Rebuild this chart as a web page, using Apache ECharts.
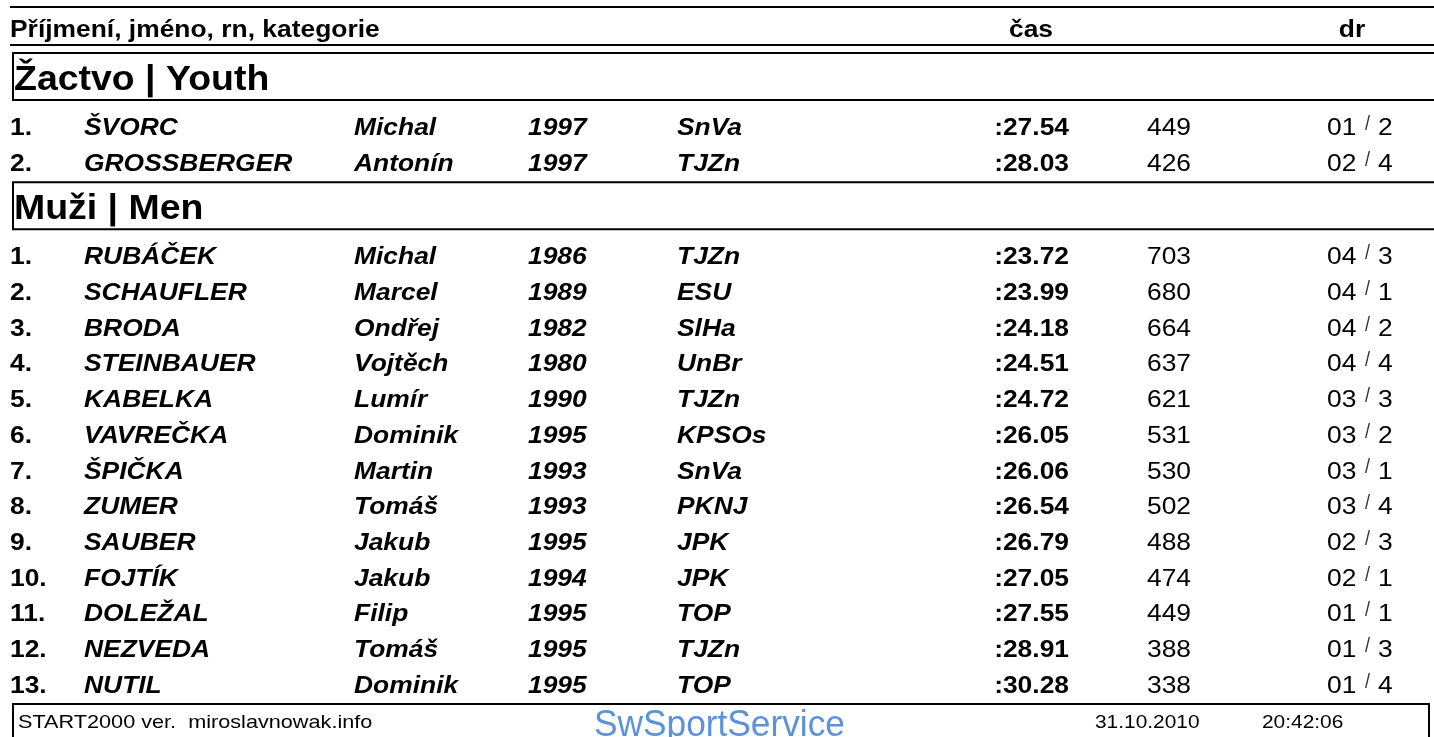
<!DOCTYPE html>
<html>
<head>
<meta charset="utf-8">
<title>Výsledky START2000</title>
<script src="https://cdn.jsdelivr.net/npm/echarts@6/dist/echarts.min.js"></script>
<style>
html, body { margin: 0; padding: 0; background: #fff; }
#chart { width: 1434px; height: 737px; }
</style>
</head>
<body>
<div id="chart"></div>
<script>
// texty hlavičky a sekcí
const headerLabels = ['Příjmení, jméno, rn, kategorie', 'čas', 'dr'];
const sectionTitles = ['Žactvo | Youth', 'Muži | Men'];

// Žactvo | Youth
const youthRank = ['1.', '2.'];
const youthSurname = ['ŠVORC', 'GROSSBERGER'];
const youthName = ['Michal', 'Antonín'];
const youthYear = ['1997', '1997'];
const youthClub = ['SnVa', 'TJZn'];
const youthTime = [':27.54', ':28.03'];
const youthPoints = [449, 426];
const youthHeat = ['01', '02'];
const youthLane = ['2', '4'];

// Muži | Men
const menRank = ['1.', '2.', '3.', '4.', '5.', '6.', '7.', '8.', '9.', '10.', '11.', '12.', '13.'];
const menSurname = ['RUBÁČEK', 'SCHAUFLER', 'BRODA', 'STEINBAUER', 'KABELKA', 'VAVREČKA', 'ŠPIČKA',
  'ZUMER', 'SAUBER', 'FOJTÍK', 'DOLEŽAL', 'NEZVEDA', 'NUTIL'];
const menName = ['Michal', 'Marcel', 'Ondřej', 'Vojtěch', 'Lumír', 'Dominik', 'Martin',
  'Tomáš', 'Jakub', 'Jakub', 'Filip', 'Tomáš', 'Dominik'];
const menYear = ['1986', '1989', '1982', '1980', '1990', '1995', '1993', '1993', '1995', '1994', '1995', '1995', '1995'];
const menClub = ['TJZn', 'ESU', 'SlHa', 'UnBr', 'TJZn', 'KPSOs', 'SnVa', 'PKNJ', 'JPK', 'JPK', 'TOP', 'TJZn', 'TOP'];
const menTime = [':23.72', ':23.99', ':24.18', ':24.51', ':24.72', ':26.05', ':26.06',
  ':26.54', ':26.79', ':27.05', ':27.55', ':28.91', ':30.28'];
const menPoints = [703, 680, 664, 637, 621, 531, 530, 502, 488, 474, 449, 388, 338];
const menHeat = ['04', '04', '04', '04', '03', '03', '03', '03', '02', '02', '01', '01', '01'];
const menLane = ['3', '1', '2', '4', '3', '2', '1', '4', '3', '1', '1', '3', '4'];

// patička
const footerLeft = 'START2000 ver.  miroslavnowak.info';
const footerLogo = 'SwSportService';
const footerDate = '31.10.2010';
const footerTime = '20:42:06';

const W = 1434, H = 737;
const FONT = '"Liberation Sans", Arial, sans-serif';
const SX = 1.1; // sestava je trochu vodorovně roztažená
const LINE = '#000';
const TY = 2.5; // posun textu dolů vůči středu řádku

// sloupce (x v px)
const col = { rank: 10, surname: 84, name: 354, year: 528, club: 677, time: 1069, points: 1147, heat: 1327, slash: 1365, lane: 1378 };

// svislé rozvržení: box sekce, pak řádky
const BOX_H = 47, FIRST_ROW = 26, PITCH = 35.7, AFTER_ROWS = 20.5;
const sections = [
  { title: sectionTitles[0], rank: youthRank, surname: youthSurname, name: youthName, year: youthYear,
    club: youthClub, time: youthTime, points: youthPoints, heat: youthHeat, lane: youthLane },
  { title: sectionTitles[1], rank: menRank, surname: menSurname, name: menName, year: menYear,
    club: menClub, time: menTime, points: menPoints, heat: menHeat, lane: menLane }
];
let cursor = 53;
sections.forEach(function (s) {
  s.top = cursor;
  s.bottom = cursor + BOX_H;
  s.rowY = s.rank.map(function (_, i) { return s.bottom + FIRST_ROW + PITCH * i; });
  cursor = s.rowY[s.rowY.length - 1] + AFTER_ROWS;
});
const footerTop = cursor;

function txt(pt, text, opt) {
  return {
    type: 'text',
    x: pt[0], y: pt[1],
    scaleX: opt.scaleX || SX,
    style: {
      text: text,
      fontFamily: opt.family || FONT,
      fontSize: opt.size || 24,
      fontWeight: opt.weight || 'normal',
      fontStyle: opt.style || 'normal',
      fill: opt.fill || '#000',
      align: opt.align || 'left',
      verticalAlign: opt.va || 'middle'
    }
  };
}

function hline(api, x1, x2, y, w) {
  const a = api.coord([x1, y]), b = api.coord([x2, y]);
  return { type: 'line', shape: { x1: a[0], y1: a[1], x2: b[0], y2: b[1] }, style: { stroke: LINE, lineWidth: w || 2 } };
}
function vline(api, x, y1, y2, w) {
  const a = api.coord([x, y1]), b = api.coord([x, y2]);
  return { type: 'line', shape: { x1: a[0], y1: a[1], x2: b[0], y2: b[1] }, style: { stroke: LINE, lineWidth: w || 2 } };
}

// řádky výsledků
function rowSeries(s) {
  return {
    type: 'custom',
    coordinateSystem: 'cartesian2d',
    silent: true,
    data: s.rowY.map(function (y, i) { return [i, y]; }),
    renderItem: function (params, api) {
      const i = api.value(0), y = api.value(1) + TY;
      const at = function (x, dy) { return api.coord([x, y + (dy || 0)]); };
      const bi = { size: 24, weight: 'bold', style: 'italic' };
      return {
        type: 'group',
        children: [
          txt(at(col.rank), s.rank[i], { size: 24, weight: 'bold' }),
          txt(at(col.surname), s.surname[i], bi),
          txt(at(col.name), s.name[i], bi),
          txt(at(col.year), s.year[i], bi),
          txt(at(col.club), s.club[i], bi),
          txt(at(col.time), s.time[i], { size: 24, weight: 'bold', align: 'right' }),
          txt(at(col.points), String(s.points[i]), { size: 24 }),
          txt(at(col.heat), s.heat[i], { size: 24 }),
          txt(at(col.slash, -4), '/', { size: 20, fill: '#333', scaleX: 0.9 }),
          txt(at(col.lane), s.lane[i], { size: 24 })
        ]
      };
    }
  };
}

// boxy sekcí
const sectionSeries = {
  type: 'custom',
  coordinateSystem: 'cartesian2d',
  silent: true,
  data: sections.map(function (s, i) { return [i, s.top, s.bottom]; }),
  renderItem: function (params, api) {
    const s = sections[api.value(0)];
    const top = api.value(1), bottom = api.value(2);
    return {
      type: 'group',
      children: [
        hline(api, 12, W, top),
        hline(api, 12, W, bottom),
        vline(api, 13, top, bottom),
        txt(api.coord([14, (top + bottom) / 2 + TY + 1]), s.title, { size: 35, weight: 'bold', scaleX: 1.07 })
      ]
    };
  }
};

// hlavička a patička
const frameSeries = {
  type: 'custom',
  coordinateSystem: 'cartesian2d',
  silent: true,
  data: [[0]],
  renderItem: function (params, api) {
    return {
      type: 'group',
      children: [
        hline(api, 10, W, 7),
        txt(api.coord([10, 28 + TY]), headerLabels[0], { size: 24, weight: 'bold' }),
        txt(api.coord([1031, 28 + TY]), headerLabels[1], { size: 24, weight: 'bold', align: 'center' }),
        txt(api.coord([1352, 28 + TY]), headerLabels[2], { size: 24, weight: 'bold', align: 'center' }),
        hline(api, 10, W, 45),
        hline(api, 12, 1430, footerTop),
        vline(api, 13, footerTop, H + 2),
        vline(api, 1429, footerTop, H + 2),
        txt(api.coord([18, footerTop + 19]), footerLeft, { size: 19, scaleX: 1.14 }),
        txt(api.coord([594, footerTop + 22]), footerLogo, { size: 36, scaleX: 0.98, fill: '#5b92da' }),
        txt(api.coord([1095, footerTop + 19]), footerDate, { size: 19 }),
        txt(api.coord([1262, footerTop + 19]), footerTime, { size: 19 })
      ]
    };
  }
};

const chart = echarts.init(document.getElementById('chart'), null, { renderer: 'canvas' });
chart.setOption({
  animation: false,
  backgroundColor: '#fff',
  grid: { left: 0, right: 0, top: 0, bottom: 0 },
  xAxis: { type: 'value', min: 0, max: W, show: false },
  yAxis: { type: 'value', min: 0, max: H, inverse: true, show: false },
  series: [frameSeries, sectionSeries].concat(sections.map(rowSeries))
});
</script>
</body>
</html>
